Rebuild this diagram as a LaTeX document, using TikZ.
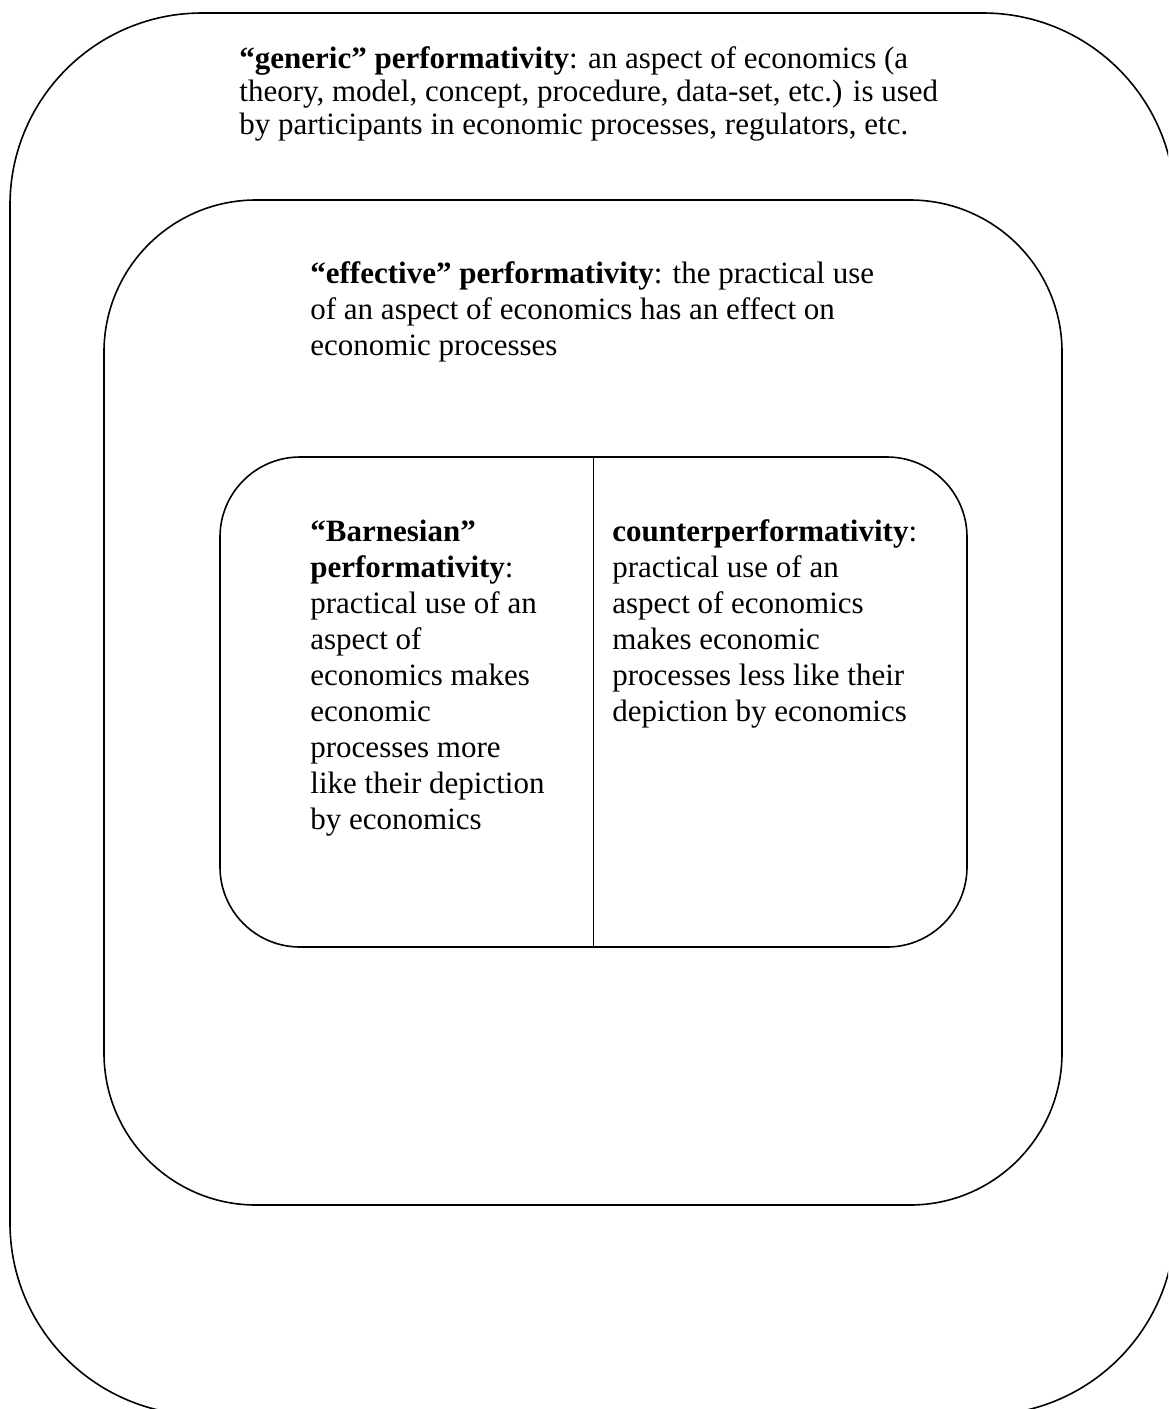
\documentclass[tikz,border=0pt]{standalone}
\usepackage{fontspec}
\setmainfont{Liberation Serif}
\usetikzlibrary{calc}
\tikzset{
  frame/.style={draw,line width=0.8pt},
  blurb/.style={anchor=base west,inner sep=0pt,align=left,font=\fontsize{15.5}{18}\selectfont},
}

\begin{document}
\begin{tikzpicture}[x=0.5pt,y=-0.5pt]
    \useasboundingbox (0,0) rectangle (1168,1409);
    \clip (0,0) rectangle (1168,1409);

    \coordinate (G1) at (10,13);
    \coordinate (G2) at (1175,1415);
    \coordinate (E1) at (104,200);
    \coordinate (E2) at (1062,1205);
    \coordinate (B1) at (220,457);
    \coordinate (B2) at (967,947);
    \coordinate (Mtop) at ($(B1)!0.5!(B2|-B1)$);
    \coordinate (Mbot) at ($(B1|-B2)!0.5!(B2)$);

    \draw[frame,rounded corners=96pt] (G1) rectangle (G2);
    \draw[frame,rounded corners=76pt] (E1) rectangle (E2);
    \draw[frame,rounded corners=40pt] (B1) rectangle (B2);
    \draw[frame] (Mtop)--(Mbot);

    % nodes sit on the baseline of their last line
    \node[blurb,font=\fontsize{15.5}{16.5}\selectfont] (generic) at (239,134)
        {\textbf{“generic” performativity}: an aspect of economics (a\\
         theory, model, concept, procedure, data-set, etc.) is used\\
         by participants in economic processes, regulators, etc.};
    \node[blurb] (effective) at (310,355)
        {\textbf{“effective” performativity}: the practical use\\
         of an aspect of economics has an effect on\\
         economic processes};
    \node[blurb] (barnes) at (310,829)
        {\textbf{“Barnesian”}\\
         \textbf{performativity}:\\
         practical use of an\\
         aspect of\\
         economics makes\\
         economic\\
         processes more\\
         like their depiction\\
         by economics};
    \node[blurb] (counter) at (612,721)
        {\textbf{counterperformativity}:\\
         practical use of an\\
         aspect of economics\\
         makes economic\\
         processes less like their\\
         depiction by economics};
\end{tikzpicture}
\end{document}
